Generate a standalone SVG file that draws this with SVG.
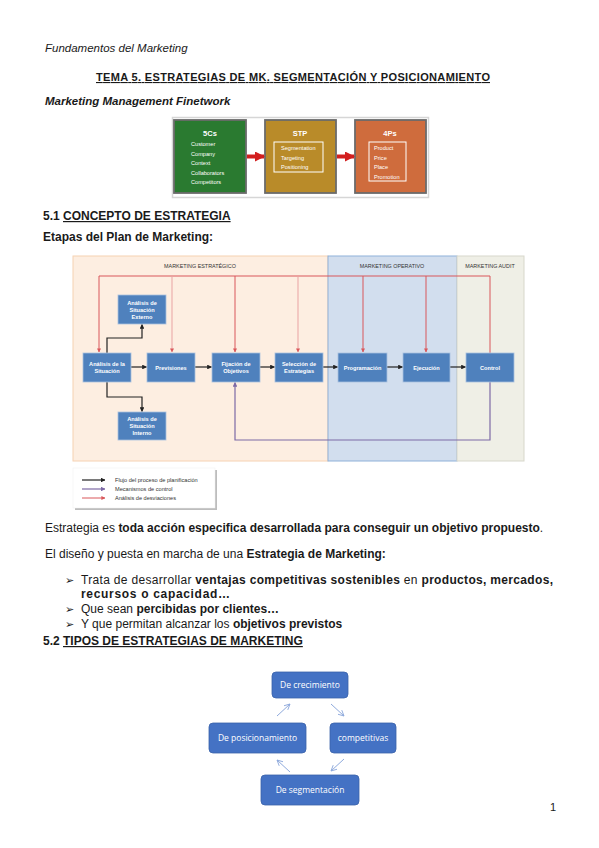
<svg xmlns="http://www.w3.org/2000/svg" width="599" height="848" viewBox="0 0 599 848">
<defs>
<style>
text{font-family:"Liberation Sans",Arial,sans-serif;fill:#1a1a1a}
.b{font-weight:bold}
.body{font-size:12px}
.fig5 text{fill:#fff;font-size:5.6px}
.fig5 .h{font-size:7.5px;font-weight:bold}
.box{fill:#4f81bd;stroke:#a9c1de;stroke-width:0.8}
.bt{fill:#fff;font-size:5.6px;font-weight:bold;text-anchor:middle}
.sec{font-size:5.4px;fill:#333;text-anchor:middle}
.red{stroke:#d9575a;stroke-width:1;fill:none}
.redl{stroke:#e9a3a3;stroke-width:1;fill:none}
.blk{stroke:#222;stroke-width:1.2;fill:none}
.pur{stroke:#7d6aa6;stroke-width:1.2;fill:none}
.cbox{fill:#4472c4;stroke:#3a62aa;stroke-width:0.8}
.ct{fill:#fff;font-size:8.5px;text-anchor:middle;font-family:"Open Sans","Liberation Sans",sans-serif}
.carr{stroke:#8faadc;stroke-width:1;fill:none}
.lg{font-size:5.6px;fill:#333}
.bul{font-family:"DejaVu Sans",sans-serif;font-size:11px;font-weight:bold}
</style>
<marker id="ab" viewBox="0 0 10 10" refX="9" refY="5" markerWidth="4" markerHeight="4" orient="auto"><path d="M0,0L10,5L0,10z" fill="#222"/></marker>
<marker id="ar" viewBox="0 0 10 10" refX="9" refY="5" markerWidth="4" markerHeight="4" orient="auto"><path d="M0,0L10,5L0,10z" fill="#d9575a"/></marker>
<marker id="ap" viewBox="0 0 10 10" refX="9" refY="5" markerWidth="4" markerHeight="4" orient="auto"><path d="M0,0L10,5L0,10z" fill="#7d6aa6"/></marker>
<marker id="ac" viewBox="0 0 10 10" refX="9" refY="5" markerWidth="7" markerHeight="7" orient="auto"><path d="M1,1L9,5L1,9" fill="none" stroke="#8faadc" stroke-width="1.3"/></marker>
<marker id="abig" viewBox="0 0 10 10" refX="9" refY="5" markerWidth="2.5" markerHeight="2.5" orient="auto"><path d="M0,0L10,5L0,10z" fill="#d21f1f"/></marker>
</defs>
<rect width="599" height="848" fill="#fff"/>

<!-- page text -->
<text x="45" y="52" font-size="11.5" font-style="italic">Fundamentos del Marketing</text>
<text x="96" y="81" class="b" font-size="11" text-decoration="underline" textLength="394">TEMA 5. ESTRATEGIAS DE MK. SEGMENTACIÓN Y POSICIONAMIENTO</text>
<text x="45" y="105" class="b" font-size="11.5" font-style="italic">Marketing Management Finetwork</text>

<!-- 5Cs STP 4Ps figure -->
<g id="fig-5cs-stp-4ps" class="fig5">
<rect x="172.5" y="117.5" width="256" height="80" fill="#fff" stroke="#d6d6d6" stroke-width="1.5"/>
<g id="n-5cs">
<rect x="174" y="120" width="72" height="73" fill="#2a7a30" stroke="#6b6b6b" stroke-width="1.8"/>
<text x="210" y="136" class="h" text-anchor="middle">5Cs</text>
<text x="191" y="146">Customer</text>
<text x="191" y="155.5">Company</text>
<text x="191" y="165">Context</text>
<text x="191" y="174.5">Collaborators</text>
<text x="191" y="184">Competitors</text>
</g>
<g id="n-stp">
<rect x="265" y="120" width="71" height="73" fill="#b98b29" stroke="#6b6b6b" stroke-width="1.8"/>
<text x="300" y="136" class="h" text-anchor="middle">STP</text>
<rect x="274" y="142" width="49" height="30" fill="none" stroke="#fff" stroke-width="1"/>
<text x="281" y="150">Segmentation</text>
<text x="281" y="159.5">Targeting</text>
<text x="281" y="169">Positioning</text>
</g>
<g id="n-4ps">
<rect x="355" y="120" width="71" height="73" fill="#cf6c3d" stroke="#6b6b6b" stroke-width="1.8"/>
<text x="390" y="136" class="h" text-anchor="middle">4Ps</text>
<rect x="369" y="142" width="37" height="39" fill="none" stroke="#fff" stroke-width="1"/>
<text x="374" y="150">Product</text>
<text x="374" y="159.5">Price</text>
<text x="374" y="169">Place</text>
<text x="374" y="178.5">Promotion</text>
</g>
<g id="fig-arrows">
<line x1="247" y1="156.5" x2="264" y2="156.5" stroke="#d21f1f" stroke-width="4" marker-end="url(#abig)"/>
<line x1="337" y1="156.5" x2="354" y2="156.5" stroke="#d21f1f" stroke-width="4" marker-end="url(#abig)"/>
</g>
</g>

<text x="43" y="220" class="b" font-size="12">5.1 <tspan text-decoration="underline">CONCEPTO DE ESTRATEGIA</tspan></text>
<text x="43" y="241" class="b" font-size="12">Etapas del Plan de Marketing:</text>

<!-- Marketing plan diagram -->
<g id="plan-bg">
<rect x="73" y="256" width="255" height="205" fill="#fdeee1" stroke="#f6d2b2" stroke-width="1"/>
<rect x="328" y="256" width="129" height="205" fill="#d2deee" stroke="#8fb1d9" stroke-width="1"/>
<rect x="457" y="256" width="67" height="205" fill="#efefe6" stroke="#d7d7cb" stroke-width="1"/>
<text x="200" y="268" class="sec">MARKETING ESTRATÉGICO</text>
<text x="392" y="268" class="sec">MARKETING OPERATIVO</text>
<text x="490" y="268" class="sec">MARKETING AUDIT</text>
</g>

<g id="plan-connectors">
<path class="red" d="M99 276H490V353"/>
<line class="red" x1="99" y1="276" x2="99" y2="352" marker-end="url(#ar)"/>
<line class="redl" x1="172" y1="276" x2="172" y2="352" marker-end="url(#ar)"/>
<line class="red" x1="235" y1="276" x2="235" y2="352" marker-end="url(#ar)"/>
<line class="redl" x1="298" y1="276" x2="298" y2="352" marker-end="url(#ar)"/>
<line class="red" x1="363" y1="276" x2="363" y2="352" marker-end="url(#ar)"/>
<line class="red" x1="426" y1="276" x2="426" y2="352" marker-end="url(#ar)"/>
<line class="blk" x1="131" y1="367" x2="146.5" y2="367" marker-end="url(#ab)"/>
<line class="blk" x1="195" y1="367" x2="211.5" y2="367" marker-end="url(#ab)"/>
<line class="blk" x1="260" y1="367" x2="274.5" y2="367" marker-end="url(#ab)"/>
<line class="blk" x1="323" y1="367" x2="337.5" y2="367" marker-end="url(#ab)"/>
<line class="blk" x1="387" y1="367" x2="402.5" y2="367" marker-end="url(#ab)"/>
<line class="blk" x1="450" y1="367" x2="465.5" y2="367" marker-end="url(#ab)"/>
<path class="blk" d="M107 353V338H142V324.5" marker-end="url(#ab)"/>
<path class="blk" d="M107 382V397H142V411.5" marker-end="url(#ab)"/>
<path class="pur" d="M490 382V440H235V382.5" marker-end="url(#ap)"/>
</g>

<g id="n-analisis"><rect class="box" x="83" y="353" width="48" height="29"/><text class="bt" x="107" y="366">Análisis de la</text><text class="bt" x="107" y="373">Situación</text></g>
<g id="n-externo"><rect class="box" x="118" y="295" width="48" height="29"/><text class="bt" x="142" y="304.5">Análisis de</text><text class="bt" x="142" y="311.5">Situación</text><text class="bt" x="142" y="318.5">Externo</text></g>
<g id="n-interno"><rect class="box" x="118" y="412" width="48" height="28"/><text class="bt" x="142" y="421">Análisis de</text><text class="bt" x="142" y="428">Situación</text><text class="bt" x="142" y="435">Interno</text></g>
<g id="n-previsiones"><rect class="box" x="147" y="353" width="48" height="29"/><text class="bt" x="171" y="369.5">Previsiones</text></g>
<g id="n-fijacion"><rect class="box" x="212" y="353" width="48" height="29"/><text class="bt" x="236" y="366">Fijación de</text><text class="bt" x="236" y="373">Objetivos</text></g>
<g id="n-seleccion"><rect class="box" x="275" y="353" width="48" height="29"/><text class="bt" x="299" y="366">Selección de</text><text class="bt" x="299" y="373">Estrategias</text></g>
<g id="n-programacion"><rect class="box" x="338" y="353" width="49" height="29"/><text class="bt" x="362.5" y="369.5">Programación</text></g>
<g id="n-ejecucion"><rect class="box" x="403" y="353" width="47" height="29"/><text class="bt" x="426.5" y="369.5">Ejecución</text></g>
<g id="n-control"><rect class="box" x="466" y="353" width="48" height="29"/><text class="bt" x="490" y="369.5">Control</text></g>

<g id="legend">
<rect x="75" y="470" width="142" height="40" fill="#bdbdbd"/>
<rect x="73" y="468" width="142" height="40" fill="#fff" stroke="#eeeeee" stroke-width="0.5"/>
<line class="blk" x1="82" y1="480" x2="105" y2="480" marker-end="url(#ab)"/>
<line class="pur" x1="82" y1="489" x2="105" y2="489" marker-end="url(#ap)"/>
<line class="red" x1="82" y1="498" x2="105" y2="498" marker-end="url(#ar)"/>
<text class="lg" x="115" y="482">Flujo del proceso de planificación</text>
<text class="lg" x="115" y="491">Mecanismos de control</text>
<text class="lg" x="115" y="500">Análisis de desviaciones</text>
</g>

<!-- body text -->
<text class="body" x="45" y="532">Estrategia es <tspan class="b">toda acción especifica desarrollada para conseguir un objetivo propuesto</tspan>.</text>
<text class="body" x="45" y="558">El diseño y puesta en marcha de una <tspan class="b">Estrategia de Marketing:</tspan></text>
<g id="bullets">
<text class="bul" x="65" y="584">➢</text>
<text class="bul" x="65" y="613">➢</text>
<text class="bul" x="65" y="628">➢</text>
</g>
<text class="body" x="81" y="584" textLength="472">Trata de desarrollar <tspan class="b">ventajas competitivas sostenibles</tspan> en <tspan class="b">productos, mercados,</tspan></text>
<text class="body b" x="81" y="598" textLength="149">recursos o capacidad…</text>
<text class="body" x="81" y="613">Que sean <tspan class="b">percibidas por clientes…</tspan></text>
<text class="body" x="81" y="628">Y que permitan alcanzar los <tspan class="b">objetivos previstos</tspan></text>
<text x="43" y="645" class="b" font-size="12">5.2 <tspan text-decoration="underline">TIPOS DE ESTRATEGIAS DE MARKETING</tspan></text>

<!-- cycle diagram -->
<g id="cycle-connectors">
<line class="carr" x1="331" y1="704" x2="344" y2="716" marker-end="url(#ac)"/>
<line class="carr" x1="344" y1="759" x2="331" y2="771" marker-end="url(#ac)"/>
<line class="carr" x1="290" y1="772" x2="277" y2="760" marker-end="url(#ac)"/>
<line class="carr" x1="277" y1="716" x2="290" y2="704" marker-end="url(#ac)"/>
</g>
<g id="n-crecimiento"><rect class="cbox" x="272" y="672" width="76" height="26" rx="4"/><text class="ct" x="310" y="688">De crecimiento</text></g>
<g id="n-competitivas"><rect class="cbox" x="330" y="723" width="66" height="30" rx="4"/><text class="ct" x="363" y="741">competitivas</text></g>
<g id="n-segmentacion"><rect class="cbox" x="261" y="775" width="98" height="30" rx="4"/><text class="ct" x="310" y="793">De segmentación</text></g>
<g id="n-posicionamiento"><rect class="cbox" x="209" y="723" width="97" height="30" rx="4"/><text class="ct" x="257.5" y="741">De posicionamiento</text></g>

<text x="550" y="811" font-size="11">1</text>
</svg>
